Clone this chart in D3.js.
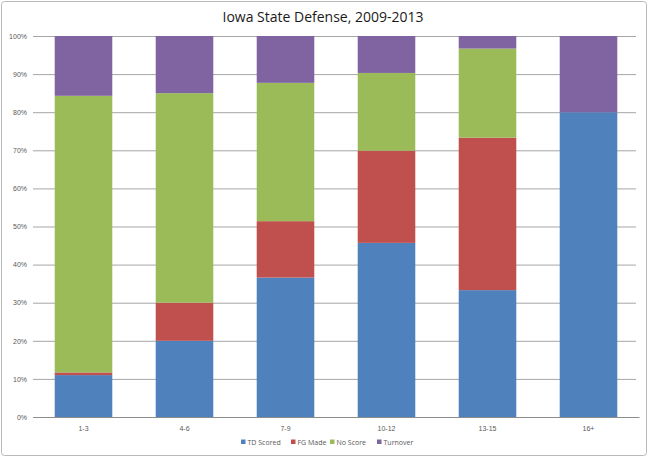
<!DOCTYPE html>
<html>
<head>
<meta charset="utf-8">
<script src="https://cdn.jsdelivr.net/npm/d3@7"></script>
<style>
  body { margin: 0; background: #fff; }
  svg { font-family: "Open Sans", "Liberation Sans", sans-serif; }
</style>
</head>
<body>
<div id="chart"></div>
<script>
(function () {
  "use strict";

  // drive ranges (yards to go) and share of outcomes per range
  let categories = ['1-3', '4-6', '7-9', '10-12', '13-15', '16+']
  let seriesNames = ['TD Scored', 'FG Made', 'No Score', 'Turnover']
  let tdScored = [0.110, 0.200, 0.366, 0.457, 0.333, 0.800]
  let fgMade   = [0.007, 0.100, 0.148, 0.242, 0.400, 0.000]
  let noScore  = [0.726, 0.550, 0.363, 0.204, 0.234, 0.000]
  let turnover = [0.157, 0.150, 0.123, 0.097, 0.033, 0.200]
  let colors = ['#4f81bd', '#c0504d', '#9bbb59', '#8064a2']
  let yTicks = [0, 0.1, 0.2, 0.3, 0.4, 0.5, 0.6, 0.7, 0.8, 0.9, 1]

  let width = 650, height = 459
  let margin = {top: 36, right: 11, bottom: 42, left: 33}

  let rows = categories.map(function(c, i){
    return {cat: c, 'TD Scored': tdScored[i], 'FG Made': fgMade[i],
            'No Score': noScore[i], 'Turnover': turnover[i]}
  })
  let stacked = d3.stack().keys(seriesNames)(rows)

  let svg = d3.select('#chart').append('svg')
    .attr('width', width)
    .attr('height', height)

  // chart frame
  svg.append('rect')
    .attr('x', 1.5).attr('y', 1.5)
    .attr('width', width - 5).attr('height', height - 5)
    .attr('rx', 3)
    .attr('fill', '#fff')
    .attr('stroke', '#b9b9b9')

  let x = d3.scaleBand()
    .domain(categories)
    .range([margin.left, width - margin.right])
    .paddingInner(0.43)
    .paddingOuter(0.215)

  let y = d3.scaleLinear()
    .domain([0, 1])
    .range([height - margin.bottom, margin.top])

  // gridlines + y labels
  let yAxis = svg.append('g')
    .attr('transform', `translate(${margin.left},0)`)
    .call(d3.axisLeft(y)
      .tickValues(yTicks)
      .tickFormat(d3.format('.0%'))
      .tickSize(-(width - margin.left - margin.right - 3))
      .tickPadding(6))
  yAxis.select('.domain').remove()
  yAxis.selectAll('line').attr('stroke', '#a6a6a6')
  yAxis.selectAll('text')
    .attr('fill', '#595959')
    .attr('font-size', 7)

  // bars
  svg.append('g').selectAll('g')
    .data(stacked)
    .enter().append('g')
      .attr('fill', function(d, i){ return colors[i] })
    .selectAll('rect')
    .data(function(d){ return d })
    .enter().append('rect')
      .attr('x', function(d){ return x(d.data.cat) })
      .attr('width', x.bandwidth())
      .attr('y', function(d){ return y(d[1]) })
      .attr('height', function(d){ return y(d[0]) - y(d[1]) })

  // x axis
  let xAxis = svg.append('g')
    .attr('transform', `translate(0,${height - margin.bottom})`)
    .call(d3.axisBottom(x).tickSize(0).tickPadding(9))
  xAxis.select('.domain').attr('stroke', '#8c8c8c')
  xAxis.selectAll('text')
    .attr('fill', '#595959')
    .attr('font-size', 7)

  // title
  svg.append('text')
    .attr('x', width / 2 - 2)
    .attr('y', 22)
    .attr('text-anchor', 'middle')
    .attr('font-size', 14)
    .attr('fill', '#1a1a1a')
    .text('Iowa State Defense, 2009-2013')

  // legend
  let legendX = [241, 291, 330, 377]
  let legend = svg.append('g').selectAll('g')
    .data(seriesNames)
    .enter().append('g')
      .attr('transform', function(d, i){ return `translate(${legendX[i]},442)` })
  legend.append('rect')
    .attr('x', 0).attr('y', -2.5)
    .attr('width', 4.5).attr('height', 4.5)
    .attr('fill', function(d, i){ return colors[i] })
  legend.append('text')
    .attr('x', 6.5)
    .attr('y', 2.5)
    .attr('font-size', 7)
    .attr('fill', '#595959')
    .text(function(d){ return d })
}());
</script>
</body>
</html>
